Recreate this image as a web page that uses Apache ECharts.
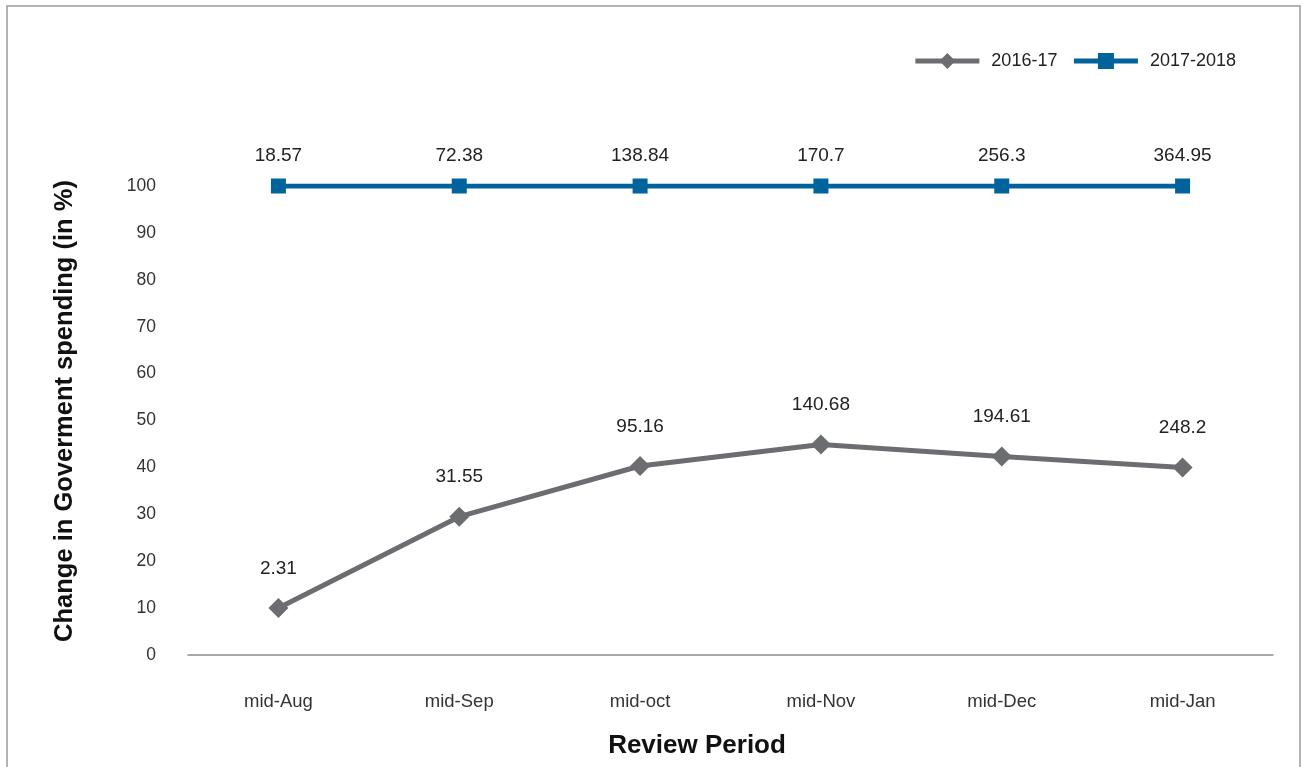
<!DOCTYPE html>
<html>
<head>
<meta charset="utf-8">
<script src="https://cdn.jsdelivr.net/npm/echarts@6/dist/echarts.min.js"></script>
<style>
  html, body { margin: 0; padding: 0; background: #fff; }
  #chart { width: 1303px; height: 767px; }
</style>
</head>
<body>
<div id="chart"></div>
<script>
// Review periods along the x axis
const periods = ['mid-Aug', 'mid-Sep', 'mid-oct', 'mid-Nov', 'mid-Dec', 'mid-Jan'];

// Plotted change in government spending (%)
const spend2016 = [10, 29.5, 40.3, 44.9, 42.3, 40];
const spend2017 = [100, 100, 100, 100, 100, 100];

// Figures printed above each point
const labels2016 = ['2.31', '31.55', '95.16', '140.68', '194.61', '248.2'];
const labels2017 = ['18.57', '72.38', '138.84', '170.7', '256.3', '364.95'];

// Y axis ticks
const yMin = 0, yMax = 100, yStep = 10;

const FONT = '"Liberation Sans", Arial, Helvetica, sans-serif';
const GREY = '#6c6d71';
const BLUE = '#00639c';

const chart = echarts.init(document.getElementById('chart'), null, { renderer: 'canvas' });

chart.setOption({
  backgroundColor: '#ffffff',
  animation: false,
  textStyle: { fontFamily: FONT },
  grid: { left: 188, right: 30, top: 186, bottom: 112, containLabel: false },
  legend: {
    right: 62,
    top: 47,
    itemWidth: 64,
    itemHeight: 20,
    itemGap: 14,
    lineStyle: { width: 5 },
    textStyle: { fontFamily: FONT, fontSize: 18, color: '#222', padding: [0, 0, 0, 7] },
    data: ['2016-17', '2017-2018']
  },
  xAxis: {
    type: 'category',
    data: periods,
    boundaryGap: true,
    axisLine: { show: true, lineStyle: { color: '#8c8c8c', width: 1.5 } },
    axisTick: { show: false },
    axisLabel: { margin: 37, fontSize: 18.5, color: '#333', fontFamily: FONT }
  },
  yAxis: {
    type: 'value',
    min: yMin,
    max: yMax,
    interval: yStep,
    axisLine: { show: false },
    axisTick: { show: false },
    splitLine: { show: false },
    axisLabel: { margin: 32, fontSize: 17.5, color: '#333', fontFamily: FONT }
  },
  graphic: [
    {
      type: 'rect',
      shape: { x: 7, y: 6, width: 1293, height: 800 },
      style: { fill: 'none', stroke: '#9a9a9a', lineWidth: 1.5 },
      silent: true
    },
    {
      type: 'text',
      x: 65,
      y: 411,
      rotation: Math.PI / 2,
      style: {
        text: 'Change in Goverment spending (in %)',
        font: 'bold 25.5px ' + FONT,
        fill: '#111',
        textAlign: 'center',
        textVerticalAlign: 'middle'
      }
    },
    {
      type: 'text',
      x: 697,
      y: 746,
      style: {
        text: 'Review Period',
        font: 'bold 26px ' + FONT,
        fill: '#111',
        textAlign: 'center',
        textVerticalAlign: 'middle'
      }
    }
  ],
  series: [
    {
      name: '2016-17',
      type: 'line',
      data: spend2016,
      symbol: 'diamond',
      symbolSize: 20,
      lineStyle: { color: GREY, width: 5 },
      itemStyle: { color: GREY },
      label: {
        show: true,
        position: 'top',
        distance: 20,
        fontSize: 19,
        color: '#222',
        fontFamily: FONT,
        formatter: p => labels2016[p.dataIndex]
      },
      z: 3
    },
    {
      name: '2017-2018',
      type: 'line',
      data: spend2017,
      symbol: 'rect',
      symbolSize: 15,
      lineStyle: { color: BLUE, width: 5 },
      itemStyle: { color: BLUE },
      label: {
        show: true,
        position: 'top',
        distance: 13,
        fontSize: 19,
        color: '#222',
        fontFamily: FONT,
        formatter: p => labels2017[p.dataIndex]
      },
      z: 4
    }
  ]
});
</script>
</body>
</html>
